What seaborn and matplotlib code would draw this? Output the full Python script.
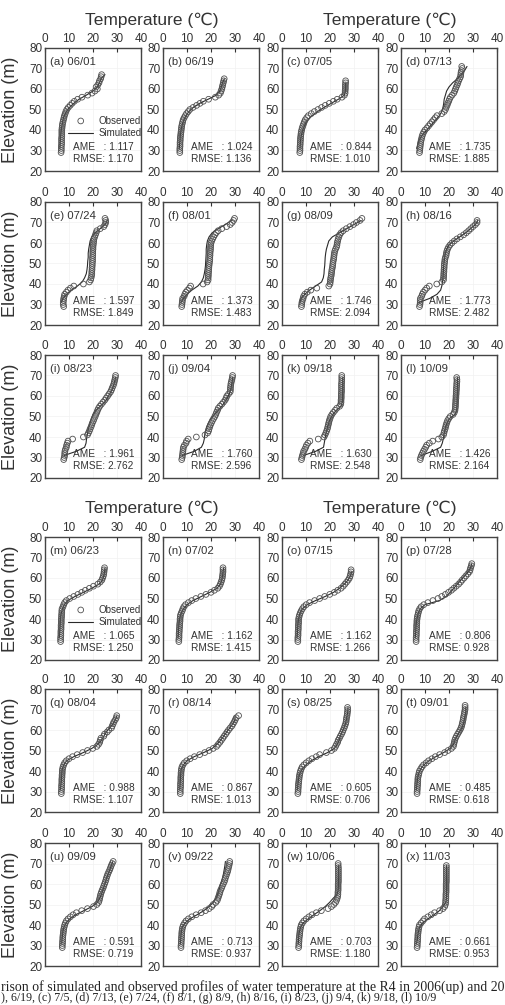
import matplotlib
matplotlib.use("Agg")
import matplotlib.pyplot as plt
import seaborn as sns

# elevation grids (m): observations every 1 m, simulation every 2 m
OBS_ELEV = [29, 30, 31, 32, 33, 34, 35, 36, 37, 38, 39, 40, 41, 42, 43, 44, 45, 46, 47, 48,
            49, 50, 51, 52, 53, 54, 55, 56, 57, 58, 59, 60, 61, 62, 63, 64, 65, 66, 67, 68,
            69, 70, 71, 72, 73]
SIM_ELEV = [31, 33, 35, 37, 39, 41, 43, 45, 47, 49, 51, 53, 55, 57, 59, 61, 63, 65, 67, 69, 71, 73]

panel_labels = ["(a) 06/01", "(b) 06/19", "(c) 07/05", "(d) 07/13",
                "(e) 07/24", "(f) 08/01", "(g) 08/09", "(h) 08/16",
                "(i) 08/23", "(j) 09/04", "(k) 09/18", "(l) 10/09",
                "(m) 06/23", "(n) 07/02", "(o) 07/15", "(p) 07/28",
                "(q) 08/04", "(r) 08/14", "(s) 08/25", "(t) 09/01",
                "(u) 09/09", "(v) 09/22", "(w) 10/06", "(x) 11/03"]
ame = ["1.117", "1.024", "0.844", "1.735", "1.597", "1.373", "1.746", "1.773",
       "1.961", "1.760", "1.630", "1.426", "1.065", "1.162", "1.162", "0.806",
       "0.988", "0.867", "0.605", "0.485", "0.591", "0.713", "0.703", "0.661"]
rmse = ["1.170", "1.136", "1.010", "1.885", "1.849", "1.483", "2.094", "2.482",
        "2.762", "2.596", "2.548", "2.164", "1.250", "1.415", "1.266", "0.928",
        "1.107", "1.013", "0.706", "0.618", "0.719", "0.937", "1.180", "0.953"]

# observed temperature (deg C), starting at 29 m
obs_a = [6.7, 6.8, 6.8, 6.8, 6.9, 6.9, 6.9, 6.9, 7.0, 7.0, 7.0, 7.0, 7.1, 7.2, 7.3, 7.5, 7.7, 7.9, 8.1, 8.4,
         8.7, 9.1, 9.7, 10.5, 11.3, 12.2, 13.6, 15.4, 17.8, 19.6, 20.8, 21.8, 21.3, 22.0, 22.5, 22.7, 23.2, 23.4, 23.6]
obs_b = [7.0, 7.0, 7.0, 7.1, 7.1, 7.1, 7.2, 7.2, 7.3, 7.4, 7.5, 7.6, 7.7, 7.8, 8.0, 8.2, 8.4, 8.8, 9.3, 9.8,
         10.5, 11.2, 12.5, 14.0, 15.4, 16.8, 19.0, 21.8, 23.2, 23.9, 24.2, 24.5, 24.7, 24.9, 25.1, 25.3, 25.5]
obs_c = [7.4, 7.5, 7.5, 7.5, 7.6, 7.6, 7.7, 7.7, 7.8, 7.9, 8.0, 8.2, 8.4, 8.7, 9.0, 9.3, 9.7, 10.3, 11.0, 12.2,
         13.5, 15.0, 16.5, 18.0, 19.7, 21.4, 23.0, 25.0, 26.0, 26.3, 26.3, 26.4, 26.4, 26.4, 26.5, 26.5]
obs_d = [7.7, 7.8, 7.9, 8.0, 8.1, 8.2, 8.4, 8.6, 8.8, 9.1, 9.5, 10.0, 10.8, 11.5, 12.2, 12.9, 13.6, 14.3, 15.0, 17.0,
         18.0, 18.5, 18.8, 19.2, 19.5, 19.9, 20.2, 20.6, 21.3, 22.0, 22.4, 22.7, 23.0, 23.4, 23.7, 24.0, 24.4, 24.8, 24.9, 25.0,
         25.2, 25.5, 25.3]
obs_e = [7.8, 7.6, 7.6, 7.7, 7.8, 8.0, 8.2, 8.9, 9.6, 10.6, 12.0, 16.0, 18.5, 19.0, 19.2, 19.4, 19.5, 19.5, 19.6, 19.6,
         19.7, 19.7, 19.8, 19.8, 19.8, 19.9, 19.9, 19.9, 20.0, 20.0, 20.1, 20.2, 20.3, 20.4, 20.7, 21.0, 21.3, 21.6, 23.0, 24.5,
         25.0, 25.3, 25.3, 25.0]
obs_f = [7.8, 7.9, 8.0, 8.1, 8.2, 8.8, 9.1, 9.5, 10.2, 11.0, 11.5, 16.7, 18.4, 18.8, 18.8, 18.9, 18.9, 19.0, 19.0, 19.1,
         19.2, 19.3, 19.4, 19.5, 19.5, 19.6, 19.6, 19.7, 19.8, 19.8, 19.9, 20.0, 20.3, 20.7, 21.1, 21.6, 22.2, 23.0, 24.5, 26.5,
         28.0, 28.8, 29.4, 29.8]
obs_g = [8.1, 8.2, 8.3, 8.5, 8.8, 9.0, 9.5, 10.5, 12.0, 14.5, 19.5, 20.0, 20.1, 20.2, 20.3, 20.5, 20.6, 20.7, 20.8, 21.0,
         21.1, 21.2, 21.3, 21.5, 21.6, 21.7, 21.8, 22.0, 22.3, 22.7, 22.9, 23.0, 23.2, 23.4, 23.7, 24.0, 24.6, 25.5, 26.8, 28.3,
         29.8, 31.0, 32.5, 33.3]
obs_h = [7.7, 7.9, 8.0, 8.0, 8.1, 8.6, 8.9, 9.3, 10.0, 10.7, 11.8, 14.9, 17.0, 17.7, 17.7, 17.8, 17.8, 17.9, 17.9, 18.0,
         18.0, 18.1, 18.2, 18.3, 18.5, 18.8, 18.9, 19.1, 19.4, 19.8, 20.4, 21.2, 22.2, 23.3, 24.7, 26.1, 27.2, 28.2, 29.1, 30.0,
         31.0, 31.7, 31.7]
obs_i = [7.8, 8.0, 8.2, 8.2, 8.3, 8.5, 8.9, 9.0, 9.3, 9.6, 11.5, 16.0, 17.7, 18.1, 18.5, 18.8, 19.2, 19.5, 19.8, 20.2,
         20.5, 20.9, 21.2, 21.6, 21.9, 22.3, 22.8, 23.5, 24.2, 24.9, 25.5, 26.1, 26.7, 27.3, 27.7, 28.0, 28.4, 28.7, 28.9, 29.1,
         29.3, 29.4]
obs_j = [7.8, 8.0, 8.1, 8.2, 8.3, 8.4, 8.5, 8.9, 9.6, 9.8, 10.5, 13.9, 17.5, 18.6, 19.0, 19.2, 19.5, 19.8, 20.2, 20.6,
         21.1, 21.6, 22.0, 22.3, 22.7, 23.0, 23.7, 24.5, 25.2, 25.9, 26.3, 26.6, 27.3, 28.0, 28.1, 28.1, 28.2, 28.3, 28.5, 28.7,
         28.9, 29.0]
obs_k = [8.1, 8.3, 8.5, 8.8, 9.0, 9.5, 9.9, 10.2, 10.8, 11.6, 15.1, 17.5, 17.9, 18.3, 18.6, 18.9, 19.1, 19.3, 19.5, 19.7,
         20.0, 20.3, 20.8, 21.4, 22.1, 22.8, 24.0, 24.5, 24.6, 24.6, 24.7, 24.7, 24.7, 24.8, 24.8, 24.8, 24.8, 24.8, 24.9, 24.9,
         24.9, 24.9]
obs_l = [8.0, 8.2, 8.5, 8.9, 9.3, 9.8, 10.3, 10.7, 11.8, 13.2, 15.6, 17.0, 17.7, 17.9, 18.1, 18.4, 18.6, 18.8, 19.1, 19.4,
         19.9, 20.5, 21.7, 22.2, 22.5, 22.6, 22.7, 22.7, 22.8, 22.8, 22.9, 22.9, 23.0, 23.0, 23.1, 23.1, 23.2, 23.2, 23.3, 23.3,
         23.2]
obs_m = [6.5, 6.5, 6.5, 6.6, 6.6, 6.6, 6.7, 6.7, 6.7, 6.8, 6.8, 6.8, 6.9, 6.9, 7.0, 7.0, 7.1, 7.5, 7.8, 8.2,
         8.9, 10.3, 12.0, 13.7, 15.3, 16.8, 18.5, 20.2, 22.0, 23.0, 23.7, 24.0, 24.3, 24.5, 24.6, 24.7, 24.8]
obs_n = [6.6, 6.6, 6.7, 6.7, 6.7, 6.8, 6.8, 6.9, 6.9, 7.0, 7.1, 7.1, 7.2, 7.3, 7.6, 8.0, 8.3, 8.7, 9.4, 10.6,
         12.0, 13.7, 15.8, 17.9, 20.0, 21.4, 22.8, 23.5, 23.9, 24.2, 24.5, 24.7, 24.8, 24.9, 25.0, 25.0, 25.0]
obs_o = [6.6, 6.6, 6.6, 6.7, 6.7, 6.7, 6.8, 6.8, 6.8, 6.9, 6.9, 6.9, 7.1, 7.3, 7.6, 8.0, 8.5, 9.1, 10.1, 11.5,
         13.6, 15.7, 17.8, 19.9, 21.8, 23.2, 24.6, 25.5, 26.2, 26.9, 27.6, 28.1, 28.4, 28.6, 28.8, 28.8]
obs_p = [6.3, 6.3, 6.3, 6.4, 6.4, 6.4, 6.5, 6.5, 6.5, 6.6, 6.6, 6.7, 6.8, 7.0, 7.2, 7.4, 7.8, 8.4, 9.5, 11.2,
         13.3, 15.4, 17.0, 18.5, 19.8, 21.0, 22.0, 23.0, 24.0, 24.8, 25.5, 26.3, 27.0, 27.8, 28.5, 28.8, 29.0, 29.3, 29.5]
obs_q = [6.8, 6.8, 6.9, 6.9, 6.9, 7.0, 7.0, 7.0, 7.1, 7.1, 7.2, 7.2, 7.3, 7.5, 7.8, 8.2, 8.9, 10.0, 11.5, 13.4,
         15.7, 17.7, 19.9, 21.6, 22.3, 22.8, 23.0, 23.3, 24.5, 24.8, 25.9, 26.6, 27.7, 28.0, 28.4, 28.7, 29.3, 29.7, 29.9]
obs_r = [7.2, 7.2, 7.2, 7.3, 7.3, 7.3, 7.4, 7.4, 7.4, 7.5, 7.5, 7.6, 7.7, 7.9, 8.3, 8.9, 9.9, 11.3, 13.1, 15.3,
         17.4, 19.2, 20.9, 22.3, 23.0, 23.7, 24.3, 24.9, 25.5, 26.1, 26.7, 27.3, 28.0, 28.7, 29.2, 29.7, 30.1, 30.5, 31.5]
obs_s = [6.6, 6.7, 6.7, 6.8, 6.8, 6.9, 7.0, 7.1, 7.2, 7.3, 7.5, 7.7, 8.0, 8.4, 9.1, 10.1, 11.2, 12.5, 14.3, 15.7,
         18.5, 20.6, 21.8, 22.3, 22.7, 23.2, 23.4, 23.9, 24.3, 24.8, 25.2, 25.5, 25.9, 26.2, 26.5, 26.7, 26.8, 26.9, 27.1, 27.2,
         27.3, 27.4, 27.3]
obs_t = [6.7, 6.7, 6.8, 6.8, 6.9, 6.9, 7.0, 7.0, 7.1, 7.3, 7.5, 7.7, 8.2, 8.7, 9.4, 10.5, 11.5, 12.9, 14.3, 16.1,
         18.2, 19.6, 21.0, 21.8, 22.0, 22.2, 22.4, 22.7, 23.1, 23.6, 24.1, 24.6, 25.0, 25.3, 25.5, 25.7, 25.9, 26.0, 26.2, 26.4,
         26.5, 26.7, 26.7, 26.7]
obs_u = [7.2, 7.2, 7.3, 7.3, 7.4, 7.4, 7.5, 7.6, 7.7, 7.8, 8.0, 8.2, 8.5, 8.9, 9.6, 10.6, 11.7, 13.1, 15.3, 17.7,
         20.2, 21.6, 22.3, 22.6, 22.8, 23.0, 23.2, 23.5, 23.8, 24.2, 24.5, 24.8, 25.1, 25.4, 25.6, 25.9, 26.2, 26.6, 27.0, 27.3,
         27.6, 28.0, 28.4]
obs_v = [7.5, 7.5, 7.6, 7.6, 7.7, 7.7, 7.8, 7.8, 7.9, 8.0, 8.2, 8.5, 9.0, 9.6, 10.6, 12.0, 13.8, 15.9, 17.7, 19.2,
         20.3, 20.9, 22.0, 22.6, 22.9, 23.2, 23.5, 23.7, 24.0, 24.4, 24.7, 25.1, 25.5, 25.8, 26.0, 26.3, 26.6, 26.9, 27.1, 27.3,
         27.5, 27.7, 27.8]
obs_w = [6.9, 7.0, 7.0, 7.1, 7.1, 7.2, 7.3, 7.4, 7.5, 7.6, 7.8, 8.0, 8.5, 9.1, 10.1, 11.2, 12.5, 14.3, 16.4, 19.2,
         20.6, 21.6, 22.3, 22.7, 23.0, 23.2, 23.3, 23.3, 23.4, 23.4, 23.4, 23.4, 23.5, 23.5, 23.5, 23.5, 23.5, 23.5, 23.5, 23.5,
         23.4, 23.4]
obs_x = [6.7, 6.8, 6.8, 6.9, 6.9, 7.0, 7.0, 7.1, 7.2, 7.3, 7.5, 7.7, 8.4, 9.1, 9.8, 11.2, 12.6, 14.0, 16.1, 17.5,
         18.2, 18.5, 18.6, 18.6, 18.7, 18.7, 18.7, 18.8, 18.8, 18.8, 18.8, 18.8, 18.9, 18.9, 18.9, 18.9, 18.9, 18.9, 18.9, 18.9,
         18.9]

# simulated temperature (deg C), starting at 31 m, every 2 m
sim_a = [6.2, 6.3, 6.4, 6.5, 6.7, 6.9, 7.2, 7.5, 8.0, 8.9, 10.2, 12.0, 14.2, 17.2, 20.0, 21.8, 22.7, 23.3, 25.0]
sim_b = [6.8, 6.9, 7.1, 7.2, 7.4, 7.7, 8.1, 8.7, 9.6, 10.8, 12.6, 15.3, 18.8, 22.2, 23.7, 24.3, 24.8, 25.6]
sim_c = [7.5, 7.6, 7.7, 8.0, 8.4, 9.0, 9.8, 10.8, 12.5, 14.8, 17.5, 20.5, 23.5, 26.0, 26.4, 26.5, 26.5]
sim_d = [6.5, 7.0, 7.5, 8.5, 10.0, 11.5, 13.0, 14.5, 16.0, 17.0, 17.5, 17.8, 18.0, 18.5, 19.0, 20.0, 21.5, 23.5, 25.0, 26.5, 27.5]
sim_e = [6.8, 7.5, 9.0, 11.0, 13.5, 15.5, 16.5, 17.2, 17.5, 17.7, 17.8, 18.0, 18.0, 18.2, 18.5, 18.8, 19.5, 21.0, 23.0, 25.0, 26.0]
sim_f = [7.5, 8.5, 10.0, 12.0, 14.5, 16.0, 16.8, 17.2, 17.5, 17.7, 17.8, 17.9, 18.0, 18.0, 18.2, 18.5, 19.2, 20.5, 23.0, 26.0, 28.5]
sim_g = [7.4, 8.0, 9.5, 11.5, 14.0, 16.5, 17.2, 17.5, 17.6, 17.8, 17.9, 18.0, 18.2, 18.5, 19.0, 19.5, 21.0, 24.0, 27.0, 30.0, 33.0]
sim_h = [7.5, 12.0, 15.0, 16.5, 17.0, 17.3, 17.5, 17.6, 17.7, 17.8, 18.0, 18.2, 18.5, 19.0, 20.0, 22.0, 24.5, 27.0, 29.0, 31.0, 32.0]
sim_i = [8.0, 13.0, 16.5, 17.1, 17.3, 17.6, 17.9, 18.3, 18.8, 19.3, 20.0, 21.2, 23.0, 24.8, 26.0, 27.0, 27.9, 28.5, 29.0, 29.4]
sim_j = [8.0, 13.0, 16.0, 16.8, 17.2, 17.4, 17.7, 18.2, 19.0, 20.0, 21.5, 23.0, 24.5, 25.7, 26.7, 27.6, 28.2, 28.5, 28.8, 29.0]
sim_k = [9.0, 14.0, 17.3, 17.6, 17.9, 18.2, 18.6, 19.0, 19.5, 20.2, 21.2, 22.6, 24.6, 25.1, 25.2, 25.2, 25.3, 25.3, 25.3, 25.3]
sim_l = [8.5, 13.0, 16.5, 17.2, 17.6, 17.9, 18.2, 18.6, 19.2, 20.2, 22.5, 23.2, 23.3, 23.4, 23.4, 23.5, 23.5, 23.5, 23.5, 23.5]
sim_m = [6.0, 6.1, 6.2, 6.3, 6.4, 6.5, 6.8, 7.3, 8.0, 9.5, 12.5, 16.0, 19.5, 22.5, 24.0, 24.5, 24.8, 25.0]
sim_n = [6.3, 6.4, 6.5, 6.6, 6.8, 7.1, 7.6, 8.5, 10.0, 12.5, 16.0, 19.5, 22.5, 24.0, 24.5, 24.8, 25.0, 25.3]
sim_o = [6.3, 6.4, 6.5, 6.6, 6.8, 7.1, 7.5, 8.5, 10.5, 14.0, 18.0, 21.5, 24.0, 26.0, 27.5, 28.5, 29.0]
sim_p = [6.0, 6.1, 6.2, 6.3, 6.5, 6.8, 7.2, 8.0, 10.0, 16.0, 18.8, 20.5, 22.0, 23.5, 25.0, 26.5, 28.0, 29.0, 29.5]
sim_q = [6.5, 6.6, 6.8, 6.9, 7.0, 7.2, 7.8, 9.0, 12.0, 16.0, 19.5, 22.0, 23.5, 24.5, 25.5, 27.0, 28.3, 29.3, 30.0]
sim_r = [7.0, 7.1, 7.2, 7.3, 7.4, 7.6, 8.5, 10.0, 13.0, 17.0, 20.5, 22.5, 24.0, 25.3, 26.5, 27.8, 29.0, 30.0, 30.0]
sim_s = [6.5, 6.6, 6.8, 7.0, 7.5, 8.5, 10.0, 12.2, 15.3, 19.0, 21.8, 23.0, 23.8, 24.3, 25.0, 25.8, 26.4, 26.8, 27.1, 27.4, 27.5]
sim_t = [6.5, 6.6, 6.8, 7.0, 7.4, 8.2, 9.5, 11.7, 14.5, 17.8, 20.5, 21.9, 22.5, 23.3, 24.4, 25.4, 26.0, 26.4, 26.7, 27.0, 27.0]
sim_u = [7.0, 7.1, 7.3, 7.5, 7.9, 8.8, 10.3, 12.8, 16.2, 19.6, 21.8, 22.8, 23.5, 24.1, 24.7, 25.2, 25.7, 26.3, 27.0, 27.6, 28.3]
sim_v = [7.3, 7.4, 7.5, 7.7, 8.0, 9.2, 11.2, 14.2, 17.0, 19.2, 20.9, 22.1, 22.8, 23.3, 23.8, 24.3, 24.8, 25.2, 25.5, 25.8, 26.0]
sim_w = [6.8, 6.9, 7.0, 7.3, 7.8, 8.8, 11.0, 13.3, 15.8, 18.0, 19.8, 21.3, 23.0, 23.4, 23.5, 23.5, 23.6, 23.6, 23.6, 23.6]
sim_x = [6.5, 6.8, 7.0, 7.3, 7.8, 9.0, 11.2, 13.8, 16.0, 17.5, 18.7, 18.9, 19.0, 19.0, 19.0, 19.0, 19.0, 19.0, 19.0, 19.0]

obs_all = [obs_a, obs_b, obs_c, obs_d, obs_e, obs_f, obs_g, obs_h, obs_i, obs_j, obs_k, obs_l,
           obs_m, obs_n, obs_o, obs_p, obs_q, obs_r, obs_s, obs_t, obs_u, obs_v, obs_w, obs_x]
sim_all = [sim_a, sim_b, sim_c, sim_d, sim_e, sim_f, sim_g, sim_h, sim_i, sim_j, sim_k, sim_l,
           sim_m, sim_n, sim_o, sim_p, sim_q, sim_r, sim_s, sim_t, sim_u, sim_v, sim_w, sim_x]

sns.set_style("white")
plt.rcParams["font.family"] = ["Liberation Sans", "DejaVu Sans"]

fig = plt.figure(figsize=(5.05, 10.05), dpi=100)
FW, FH = 505, 1005
col_left = [45, 163, 282, 401]
row_top = [48, 202, 355, 537, 689, 843]
W, H = 96, 123

for i in range(24):
    r, c = divmod(i, 4)
    ax = fig.add_axes([col_left[c] / FW, 1 - (row_top[r] + H) / FH, W / FW, H / FH])
    obs = obs_all[i]
    sim = sim_all[i]
    sns.lineplot(x=sim, y=SIM_ELEV[:len(sim)], sort=False, estimator=None,
                 color="#2a2a2a", lw=0.8, ax=ax, label="Simulated")
    sns.scatterplot(x=obs, y=OBS_ELEV[:len(obs)], marker="o", s=17,
                    facecolors="none", edgecolor="#505050", linewidth=0.6,
                    ax=ax, label="Observed", zorder=3)
    ax.set_xlim(0, 40)
    ax.set_ylim(20, 80)
    ax.set_xticks([0, 10, 20, 30, 40])
    ax.set_yticks([20, 30, 40, 50, 60, 70, 80])
    ax.xaxis.tick_top()
    ax.tick_params(direction="in", length=3, width=0.8, labelsize=8.5, pad=2,
                   colors="#333333", labelcolor="#333333")
    ax.set_xlabel("")
    ax.set_ylabel("")
    ax.grid(True, color="#f2f2f2", lw=0.5)
    for sp in ax.spines.values():
        sp.set_color("#444444")
        sp.set_linewidth(1.0)

    ax.text(0.05, 0.89, panel_labels[i], transform=ax.transAxes, fontsize=8.2,
            color="#333333", va="center", ha="left")
    ax.text(0.29, 0.06, "AME   : " + ame[i] + "\nRMSE: " + rmse[i],
            transform=ax.transAxes, fontsize=7.3, color="#333333",
            va="bottom", ha="left", linespacing=1.15)

    leg = ax.get_legend()
    if leg is not None:
        leg.remove()
    if i in (0, 12):
        h, l = ax.get_legend_handles_labels()
        ax.legend(h[::-1], l[::-1], loc="center left", bbox_to_anchor=(0.2, 0.36),
                  frameon=False, fontsize=7, handlelength=2.6, handletextpad=0.5,
                  labelspacing=0.25, borderaxespad=0, labelcolor="#333333")

    if c == 0:
        fig.text(11 / FW, 1 - (row_top[r] + H / 2) / FH, "Elevation (m)",
                 rotation=90, fontsize=13, ha="center", va="center", color="#333333")

# group titles
for ty in (20, 508):
    fig.text(152 / FW, 1 - ty / FH, "Temperature (\u2103)", fontsize=12.5,
             ha="center", va="center", color="#333333")
    fig.text(390 / FW, 1 - ty / FH, "Temperature (\u2103)", fontsize=12.5,
             ha="center", va="center", color="#333333")

# caption remnant at the bottom edge
fig.text(0.002, 1 - 987 / FH,
         "rison of simulated and observed profiles of water temperature at the R4 in 2006(up) and 20",
         family=["Liberation Serif", "DejaVu Serif"], fontsize=9.9, ha="left", va="center", color="#222222")
fig.text(0.002, 0.6 / FH,
         "), 6/19, (c) 7/5, (d) 7/13, (e) 7/24, (f) 8/1, (g) 8/9, (h) 8/16, (i) 8/23, (j) 9/4, (k) 9/18, (l) 10/9",
         family=["Liberation Serif", "DejaVu Serif"], fontsize=8.6, ha="left", va="bottom", color="#222222")

fig.savefig("out.png", dpi=100, facecolor="white")
